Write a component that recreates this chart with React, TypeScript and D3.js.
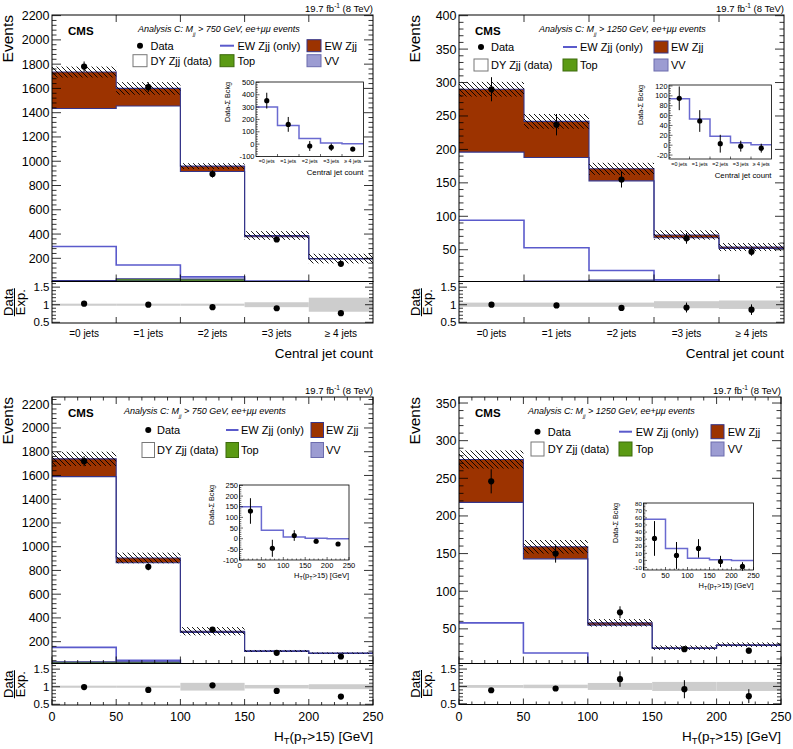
import React from "react";
import * as d3 from "d3";

const FONT = "'Liberation Sans', Arial, Helvetica, sans-serif";
const C_EW = "#9c3300";
const C_TOP = "#5b9a14";
const C_VV = "#9c9cd2";
const C_LINE = "#5a5acb";
const C_STACK = "#35358a";
const C_BAND = "#cdcdcd";

const JET_LABELS = ["=0 jets", "=1 jets", "=2 jets", "=3 jets", "\u2265 4 jets"];
const CAT_EDGES = [0, 1, 2, 3, 4, 5];
const HT_EDGES = [0, 50, 100, 150, 200, 250];
const HT_TICKS = [0, 50, 100, 150, 200, 250];
const RATIO_DOMAIN = [0.48, 1.66];

// Panel A: central jet count, Mjj > 750 GeV
const A_VV = [12, 12, 10, 8, 5];
const A_TOP = [4, 20, 20, 4, 2];
const A_DY = [1419, 1423, 885, 366, 187];
const A_EW = [300, 145, 45, 10, 4];
const A_EW_ONLY = [298, 145, 47, 10, 4];
const A_UNC = [45, 52, 24, 36, 40];
const A_DATA = [1780, 1610, 895, 355, 155];
const A_DATA_ERR = [42, 40, 30, 19, 12];
const A_RATIO = [1.03, 1.0, 0.93, 0.9, 0.76];
const A_RATIO_ERR = [0.02, 0.02, 0.03, 0.05, 0.06];
const A_RATIO_BAND = [0.03, 0.03, 0.03, 0.07, 0.2];
const A_INSET_LINE = [300, 150, 45, 10, 4];
const A_INSET_DATA = [352, 160, -15, -25, -40];
const A_INSET_ERR = [64, 60, 40, 30, 6];

// Panel B: central jet count, Mjj > 1250 GeV
const B_VV = [1.5, 1.5, 1.5, 1, 1];
const B_TOP = [1, 1.5, 3, 2, 1];
const B_DY = [193.5, 185, 148.5, 65, 50];
const B_EW = [94, 54, 18, 4, 2];
const B_EW_ONLY = [94, 53, 19, 5, 2];
const B_UNC = [11, 11, 9, 7, 6];
const B_DATA = [290, 237, 155, 67, 47];
const B_DATA_ERR = [18, 16, 12, 8, 6];
const B_RATIO = [1.0, 0.98, 0.91, 0.92, 0.86];
const B_RATIO_ERR = [0.05, 0.07, 0.07, 0.14, 0.15];
const B_RATIO_BAND = [0.06, 0.06, 0.06, 0.1, 0.12];
const B_INSET_LINE = [94, 53, 18, 5, 1];
const B_INSET_DATA = [95, 49, 3, -2, -6];
const B_INSET_ERR = [24, 22, 18, 11, 9];

// Panel C: HT, Mjj > 750 GeV
const C_VVS = [10, 10, 5, 3, 2];
const C_TOPS = [20, 20, 4, 2, 1];
const C_DYS = [1560, 835, 269, 113, 98];
const C_EWS = [150, 40, 10, 4, 2];
const C_EW_ONLY = [152, 42, 12, 4, 2];
const C_UNC = [60, 45, 35, 8, 6];
const C_DATA = [1720, 830, 302, 106, 75];
const C_DATA_ERR = [42, 29, 17, 10, 9];
const C_RATIO = [0.99, 0.91, 1.04, 0.88, 0.72];
const C_RATIO_ERR = [0.02, 0.03, 0.06, 0.08, 0.07];
const C_RATIO_BAND = [0.03, 0.03, 0.11, 0.05, 0.07];
const C_INSET_LINE = [150, 40, 8, 2, 0];
const C_INSET_DATA = [130, -45, 15, -12, -25];
const C_INSET_ERR = [60, 40, 25, 11, 5];

// Panel D: HT, Mjj > 1250 GeV
const D_VV = [1, 1, 1.5, 1, 0.5];
const D_TOP = [1, 1.5, 0.5, 0.5, 0.3];
const D_DY = [216, 140.5, 53, 22.5, 27.2];
const D_EW = [57, 16, 3, 1, 1];
const D_EW_ONLY = [58, 18, 3, 1, 1];
const D_UNC = [12, 9, 5, 3, 3];
const D_DATA = [246, 150, 72, 23, 21];
const D_DATA_ERR = [16, 12, 8, 3.5, 4];
const D_RATIO = [0.89, 0.94, 1.21, 0.92, 0.72];
const D_RATIO_ERR = [0.04, 0.06, 0.22, 0.26, 0.2];
const D_RATIO_BAND = [0.04, 0.05, 0.1, 0.13, 0.13];
const D_INSET_LINE = [58, 17, 3, 1, 0];
const D_INSET_DATA = [31, 7, 17, -1.5, -8.5];
const D_INSET_ERR = [24.5, 19, 13, 8, 6];

const PANELS = [
  {
    id: "A", kind: "cat", mjj: "750",
    vv: A_VV, top: A_TOP, dy: A_DY, ew: A_EW, ewOnly: A_EW_ONLY, unc: A_UNC,
    data: A_DATA, dataErr: A_DATA_ERR, ratio: A_RATIO, ratioErr: A_RATIO_ERR, band: A_RATIO_BAND,
    insetLine: A_INSET_LINE, insetData: A_INSET_DATA, insetErr: A_INSET_ERR,
    frame: { L: 52, R: 373, T: 15, M: 281.5, B: 323 },
    yDomain: [9, 2205], yMajor: 200, yMinor: 40,
    anaX: 138,
    legend: { rows: [45.7, 60.7], cols: [133, 220, 307], bw: 14, bh: 12, tx: 17.5 },
    inset: { L: 256, R: 363.5, T: 82, B: 156.5, domain: [-100, 503], major: 100, minor: 20, fs: 7.5 },
  },
  {
    id: "B", kind: "cat", mjj: "1250",
    vv: B_VV, top: B_TOP, dy: B_DY, ew: B_EW, ewOnly: B_EW_ONLY, unc: B_UNC,
    data: B_DATA, dataErr: B_DATA_ERR, ratio: B_RATIO, ratioErr: B_RATIO_ERR, band: B_RATIO_BAND,
    insetLine: B_INSET_LINE, insetData: B_INSET_DATA, insetErr: B_INSET_ERR,
    frame: { L: 459, R: 784, T: 15, M: 281.5, B: 323 },
    yDomain: [2.5, 401], yMajor: 50, yMinor: 10,
    anaX: 539,
    legend: { rows: [47, 65], cols: [474, 563, 654], bw: 14, bh: 12, tx: 17 },
    inset: { L: 669, R: 771.5, T: 85, B: 159, domain: [-28, 122], major: 20, minor: 5, fs: 7.3 },
  },
  {
    id: "C", kind: "ht", mjj: "750",
    vv: C_VVS, top: C_TOPS, dy: C_DYS, ew: C_EWS, ewOnly: C_EW_ONLY, unc: C_UNC,
    data: C_DATA, dataErr: C_DATA_ERR, ratio: C_RATIO, ratioErr: C_RATIO_ERR, band: C_RATIO_BAND,
    insetLine: C_INSET_LINE, insetData: C_INSET_DATA, insetErr: C_INSET_ERR,
    frame: { L: 52, R: 373, T: 397, M: 663.5, B: 705 },
    yDomain: [16, 2261], yMajor: 200, yMinor: 40,
    anaX: 124,
    legend: { rows: [430, 450], cols: [142, 226, 311], bw: 12.5, bh: 15, tx: 15 },
    inset: { L: 239.5, R: 349, T: 485, B: 560, domain: [-100, 252], major: 50, minor: 10, fs: 7.5 },
  },
  {
    id: "D", kind: "ht", mjj: "1250",
    vv: D_VV, top: D_TOP, dy: D_DY, ew: D_EW, ewOnly: D_EW_ONLY, unc: D_UNC,
    data: D_DATA, dataErr: D_DATA_ERR, ratio: D_RATIO, ratioErr: D_RATIO_ERR, band: D_RATIO_BAND,
    insetLine: D_INSET_LINE, insetData: D_INSET_DATA, insetErr: D_INSET_ERR,
    frame: { L: 459, R: 781, T: 397, M: 663.5, B: 704.5 },
    yDomain: [4, 358], yMajor: 50, yMinor: 10,
    anaX: 528,
    legend: { rows: [431.7, 449], cols: [531, 619, 711], bw: 13, bh: 14, tx: 16.7 },
    inset: { L: 643.5, R: 753.5, T: 503, B: 570, domain: [-13.5, 81], major: 10, minor: 2, fs: 6.2 },
  },
];

function tickVals(d0: number, d1: number, step: number): number[] {
  const out: number[] = [];
  for (let k = Math.ceil(d0 / step - 1e-9); k * step <= d1 + 1e-9; k++) out.push(+(k * step).toFixed(6));
  return out;
}
const isMult = (v: number, step: number) => Math.abs(v / step - Math.round(v / step)) < 1e-6;

function HTTitle({ x, y, fs }: { x: number; y: number; fs: number }) {
  const s = fs * 0.7;
  const d = fs * 0.25;
  return (
    <text x={x} y={y} fontSize={fs} textAnchor="end">
      H<tspan fontSize={s} dy={d}>T</tspan>
      <tspan dy={-d}>(p</tspan>
      <tspan fontSize={s} dy={d}>T</tspan>
      <tspan dy={-d}>&gt;15) [GeV]</tspan>
    </text>
  );
}

function Inset({ p, edges }: any) {
  const g = p.inset;
  const n = p.insetLine.length;
  const xi = d3.scaleLinear().domain([edges[0], edges[n]]).range([g.L, g.R]);
  const yi = d3.scaleLinear().domain(g.domain).range([g.B, g.T]);
  const idx = (i: number) => Math.min(i, n - 1);
  const line = d3.line<number>().curve(d3.curveStepAfter).x((e) => xi(e)).y((_, i) => yi(p.insetLine[idx(i)]))(edges) || "";
  const yt = tickVals(g.domain[0], g.domain[1], g.minor);
  const clip = `iclip-${p.id}`;
  const centers = p.insetData.map((_: number, i: number) => (edges[i] + edges[i + 1]) / 2);
  return (
    <g>
      <defs>
        <clipPath id={clip}><rect x={g.L} y={g.T} width={g.R - g.L} height={g.B - g.T} /></clipPath>
      </defs>
      <rect x={g.L} y={g.T} width={g.R - g.L} height={g.B - g.T} fill="#fff" />
      <path d={line} fill="none" stroke="#6a6ad0" strokeWidth={1.5} clipPath={`url(#${clip})`} />
      {p.insetData.map((v: number, i: number) => (
        <g key={i}>
          <line x1={xi(centers[i])} x2={xi(centers[i])} y1={yi(Math.min(v + p.insetErr[i], g.domain[1]))} y2={yi(v - p.insetErr[i])} stroke="#000" strokeWidth={1} />
          <circle cx={xi(centers[i])} cy={yi(v)} r={2.6} fill="#000" />
        </g>
      ))}
      <rect x={g.L} y={g.T} width={g.R - g.L} height={g.B - g.T} fill="none" stroke="#000" strokeWidth={0.8} />
      {yt.map((v) => {
        const maj = isMult(v, g.major);
        const len = maj ? 3.5 : 1.8;
        return <line key={"t" + v} x1={g.L} x2={g.L + len} y1={yi(v)} y2={yi(v)} stroke="#000" strokeWidth={0.6} />;
      })}
      {yt.filter((v) => isMult(v, g.major)).map((v) => (
        <text key={"l" + v} x={g.L - 1.5} y={yi(v)} dy="0.35em" fontSize={g.fs} textAnchor="end">{v}</text>
      ))}
      <text transform={`translate(${g.L - 26},${g.T}) rotate(-90)`} fontSize={7.2} textAnchor="end">Data-&#931; Bckg</text>
      {p.kind === "cat" ? (
        <g>
          {edges.slice(1, n).map((e: number) => (
            <line key={e} x1={xi(e)} x2={xi(e)} y1={g.B} y2={g.B - 2.5} stroke="#000" strokeWidth={0.6} />
          ))}
          {JET_LABELS.map((t, i) => (
            <text key={t} x={xi(centers[i])} y={g.B + 6.5} fontSize={5.3} textAnchor="middle">{t}</text>
          ))}
          <text x={g.R} y={g.B + 18.5} fontSize={7.8} textAnchor="end">Central jet count</text>
        </g>
      ) : (
        <g>
          {tickVals(0, 250, 10).map((v) => (
            <line key={v} x1={xi(v)} x2={xi(v)} y1={g.B} y2={g.B - (isMult(v, 50) ? 3 : 1.5)} stroke="#000" strokeWidth={0.6} />
          ))}
          {HT_TICKS.map((v) => (
            <text key={v} x={xi(v)} y={g.B + 8} fontSize={7.5} textAnchor="middle">{v}</text>
          ))}
          <HTTitle x={g.R} y={g.B + 18} fs={7.5} />
        </g>
      )}
    </g>
  );
}

function Legend({ p }: any) {
  const lg = p.legend;
  const fs = 11;
  const [r1, r2] = lg.rows;
  const [c1, c2, c3] = lg.cols;
  const box = (cx: number, cy: number, fill: string, stroke: string) => (
    <rect x={cx} y={cy - lg.bh / 2} width={lg.bw} height={lg.bh} fill={fill} stroke={stroke} strokeWidth={1} />
  );
  const txt = (cx: number, cy: number, t: string) => (
    <text x={cx + lg.tx} y={cy} dy="0.36em" fontSize={fs}>{t}</text>
  );
  return (
    <g>
      <circle cx={c1 + lg.bw / 2} cy={r1} r={3} fill="#000" />
      {txt(c1, r1, "Data")}
      <line x1={c2} x2={c2 + lg.bw} y1={r1} y2={r1} stroke={C_LINE} strokeWidth={2} />
      {txt(c2, r1, "EW Zjj (only)")}
      {box(c3, r1, C_EW, C_STACK)}
      {txt(c3, r1, "EW Zjj")}
      {box(c1, r2, "#fff", "#777")}
      {txt(c1, r2, "DY Zjj (data)")}
      {box(c2, r2, C_TOP, "#3d6a0c")}
      {txt(c2, r2, "Top")}
      {box(c3, r2, C_VV, "#6c6cae")}
      {txt(c3, r2, "VV")}
    </g>
  );
}

function Panel({ p }: any) {
  const f = p.frame;
  const edges = p.kind === "cat" ? CAT_EDGES : HT_EDGES;
  const n = p.data.length;
  const x = d3.scaleLinear().domain([edges[0], edges[n]]).range([f.L, f.R]);
  const y = d3.scaleLinear().domain(p.yDomain).range([f.M, f.T]);
  const yr = d3.scaleLinear().domain(RATIO_DOMAIN).range([f.B, f.M]);
  const idx = (i: number) => Math.min(i, n - 1);
  const zeros = p.data.map(() => 0);
  const s1 = p.vv;
  const s2 = s1.map((v: number, i: number) => v + p.top[i]);
  const s3 = s2.map((v: number, i: number) => v + p.dy[i]);
  const s4 = s3.map((v: number, i: number) => v + p.ew[i]);
  const area = (lo: number[], hi: number[]) =>
    d3.area<number>().curve(d3.curveStepAfter).x((e) => x(e)).y0((_, i) => y(lo[idx(i)])).y1((_, i) => y(hi[idx(i)]))(edges) || "";
  const line = (v: number[]) =>
    d3.line<number>().curve(d3.curveStepAfter).x((e) => x(e)).y((_, i) => y(v[idx(i)]))(edges) || "";
  const centers = p.data.map((_: number, i: number) => (edges[i] + edges[i + 1]) / 2);
  const clipId = `clip-${p.id}`;

  const yTicks = tickVals(p.yDomain[0], p.yDomain[1], p.yMinor);
  const rTicks = tickVals(RATIO_DOMAIN[0], RATIO_DOMAIN[1], 0.1);
  const xTicks: { v: number; maj: boolean }[] =
    p.kind === "cat"
      ? edges.slice(1, n).map((e: number) => ({ v: e, maj: true }))
      : tickVals(0, 250, 10).map((v) => ({ v, maj: isMult(v, 50) }));

  const midR = (f.M + f.B) / 2;

  return (
    <g>
      <defs>
        <clipPath id={clipId}><rect x={f.L} y={f.T} width={f.R - f.L} height={f.M - f.T} /></clipPath>
      </defs>
      <g clipPath={`url(#${clipId})`}>
        <path d={area(zeros, s1)} fill={C_VV} />
        <path d={area(s1, s2)} fill={C_TOP} />
        <path d={area(s2, s3)} fill="#fff" />
        <path d={area(s3, s4)} fill={C_EW} />
        {[s1, s2, s3, s4].map((s, k) => (
          <path key={k} d={line(s)} fill="none" stroke={C_STACK} strokeWidth={1.1} />
        ))}
        {p.unc.map((u: number, i: number) => (
          <rect key={"h" + i} x={x(edges[i])} width={x(edges[i + 1]) - x(edges[i])} y={y(s4[i] + u)} height={y(s4[i] - u) - y(s4[i] + u)} fill="url(#hatch)" />
        ))}
        <path d={line(p.ewOnly)} fill="none" stroke={C_LINE} strokeWidth={1.6} />
      </g>
      {p.data.map((v: number, i: number) => (
        <g key={"d" + i}>
          <line x1={x(centers[i])} x2={x(centers[i])} y1={y(v + p.dataErr[i])} y2={y(v - p.dataErr[i])} stroke="#000" strokeWidth={1} />
          <circle cx={x(centers[i])} cy={y(v)} r={3.1} fill="#000" />
        </g>
      ))}
      {p.band.map((b: number, i: number) => (
        <rect key={"b" + i} x={x(edges[i])} width={x(edges[i + 1]) - x(edges[i])} y={yr(1 + b)} height={yr(1 - b) - yr(1 + b)} fill={C_BAND} />
      ))}
      {p.ratio.map((r: number, i: number) => (
        <g key={"r" + i}>
          <line x1={x(centers[i])} x2={x(centers[i])} y1={yr(r + p.ratioErr[i])} y2={yr(r - p.ratioErr[i])} stroke="#000" strokeWidth={1} />
          <circle cx={x(centers[i])} cy={yr(r)} r={3.1} fill="#000" />
        </g>
      ))}
      <rect x={f.L} y={f.T} width={f.R - f.L} height={f.M - f.T} fill="none" stroke="#000" strokeWidth={1} />
      <rect x={f.L} y={f.M} width={f.R - f.L} height={f.B - f.M} fill="none" stroke="#000" strokeWidth={1} />
      {yTicks.map((v) => {
        const maj = isMult(v, p.yMajor);
        const len = maj ? 9 : 4.5;
        return (
          <g key={"yt" + v}>
            <line x1={f.L} x2={f.L + len} y1={y(v)} y2={y(v)} stroke="#000" strokeWidth={0.8} />
            <line x1={f.R} x2={f.R - len} y1={y(v)} y2={y(v)} stroke="#000" strokeWidth={0.8} />
          </g>
        );
      })}
      {yTicks.filter((v) => isMult(v, p.yMajor)).map((v) => (
        <text key={"yl" + v} x={f.L - 2.5} y={y(v)} dy="0.36em" fontSize={12.5} textAnchor="end">{v}</text>
      ))}
      {rTicks.map((v) => {
        const maj = isMult(v, 0.5);
        const len = maj ? 8 : 4;
        return (
          <g key={"rt" + v}>
            <line x1={f.L} x2={f.L + len} y1={yr(v)} y2={yr(v)} stroke="#000" strokeWidth={0.8} />
            <line x1={f.R} x2={f.R - len} y1={yr(v)} y2={yr(v)} stroke="#000" strokeWidth={0.8} />
          </g>
        );
      })}
      {rTicks.filter((v) => isMult(v, 0.5)).map((v) => (
        <text key={"rl" + v} x={f.L - 2.5} y={yr(v)} dy="0.36em" fontSize={11.5} textAnchor="end">{v}</text>
      ))}
      {xTicks.map((t) => (
        <g key={"xt" + t.v}>
          <line x1={x(t.v)} x2={x(t.v)} y1={f.B} y2={f.B - (t.maj ? 6 : 3)} stroke="#000" strokeWidth={0.8} />
          <line x1={x(t.v)} x2={x(t.v)} y1={f.M} y2={f.M - (t.maj ? 7 : 3.5)} stroke="#000" strokeWidth={0.8} />
          <line x1={x(t.v)} x2={x(t.v)} y1={f.T} y2={f.T + (t.maj ? 7 : 3.5)} stroke="#000" strokeWidth={0.8} />
        </g>
      ))}
      {p.kind === "cat" ? (
        <g>
          {JET_LABELS.map((t, i) => (
            <text key={t} x={x(centers[i])} y={f.B + 14} fontSize={10} textAnchor="middle">{t}</text>
          ))}
          <text x={f.R} y={f.B + 34.5} fontSize={13.5} textAnchor="end">Central jet count</text>
        </g>
      ) : (
        <g>
          {HT_TICKS.map((v) => (
            <text key={v} x={x(v)} y={f.B + 16} fontSize={12.5} textAnchor="middle">{v}</text>
          ))}
          <HTTitle x={f.R} y={f.B + 36} fs={13.5} />
        </g>
      )}
      <text transform={`translate(${f.L - 39.5},${f.T}) rotate(-90)`} fontSize={15.5} textAnchor="end">Events</text>
      <text transform={`translate(${f.L - 39.3},${midR}) rotate(-90)`} fontSize={13} textAnchor="middle">Data</text>
      <line x1={f.L - 37.5} x2={f.L - 37.5} y1={midR - 14} y2={midR + 14} stroke="#000" strokeWidth={1} />
      <text transform={`translate(${f.L - 27.5},${midR}) rotate(-90)`} fontSize={13} textAnchor="middle">Exp.</text>
      <text x={f.R} y={f.T - 3} fontSize={9.5} textAnchor="end">
        19.7 fb<tspan fontSize={6.5} dy={-4}>-1</tspan><tspan dy={4}> (8 TeV)</tspan>
      </text>
      <text x={f.L + 16} y={f.T + 20} fontSize={11.5} fontWeight="bold">CMS</text>
      <text x={p.anaX} y={f.T + 17} fontSize={9} fontStyle="italic">
        Analysis C: M<tspan fontSize={5.5} dy={3.5}>jj</tspan>
        <tspan dy={-3.5}> &gt; {p.mjj} GeV, ee+&#956;&#956; events</tspan>
      </text>
      <Legend p={p} />
      <Inset p={p} edges={edges} />
    </g>
  );
}

export default function App() {
  return (
    <svg
      width={793}
      height={749}
      style={{ position: "absolute", left: 0, top: 0, background: "#fff" }}
      fontFamily={FONT}
    >
      <defs>
        <pattern id="hatch" patternUnits="userSpaceOnUse" width={5} height={5}>
          <path d="M0,0 L5,5 M-1,4 L1,6 M4,-1 L6,1" stroke="#000" strokeWidth={0.9} />
        </pattern>
      </defs>
      <rect x={0} y={0} width={793} height={749} fill="#fff" />
      {PANELS.map((p) => (
        <Panel key={p.id} p={p} />
      ))}
    </svg>
  );
}
